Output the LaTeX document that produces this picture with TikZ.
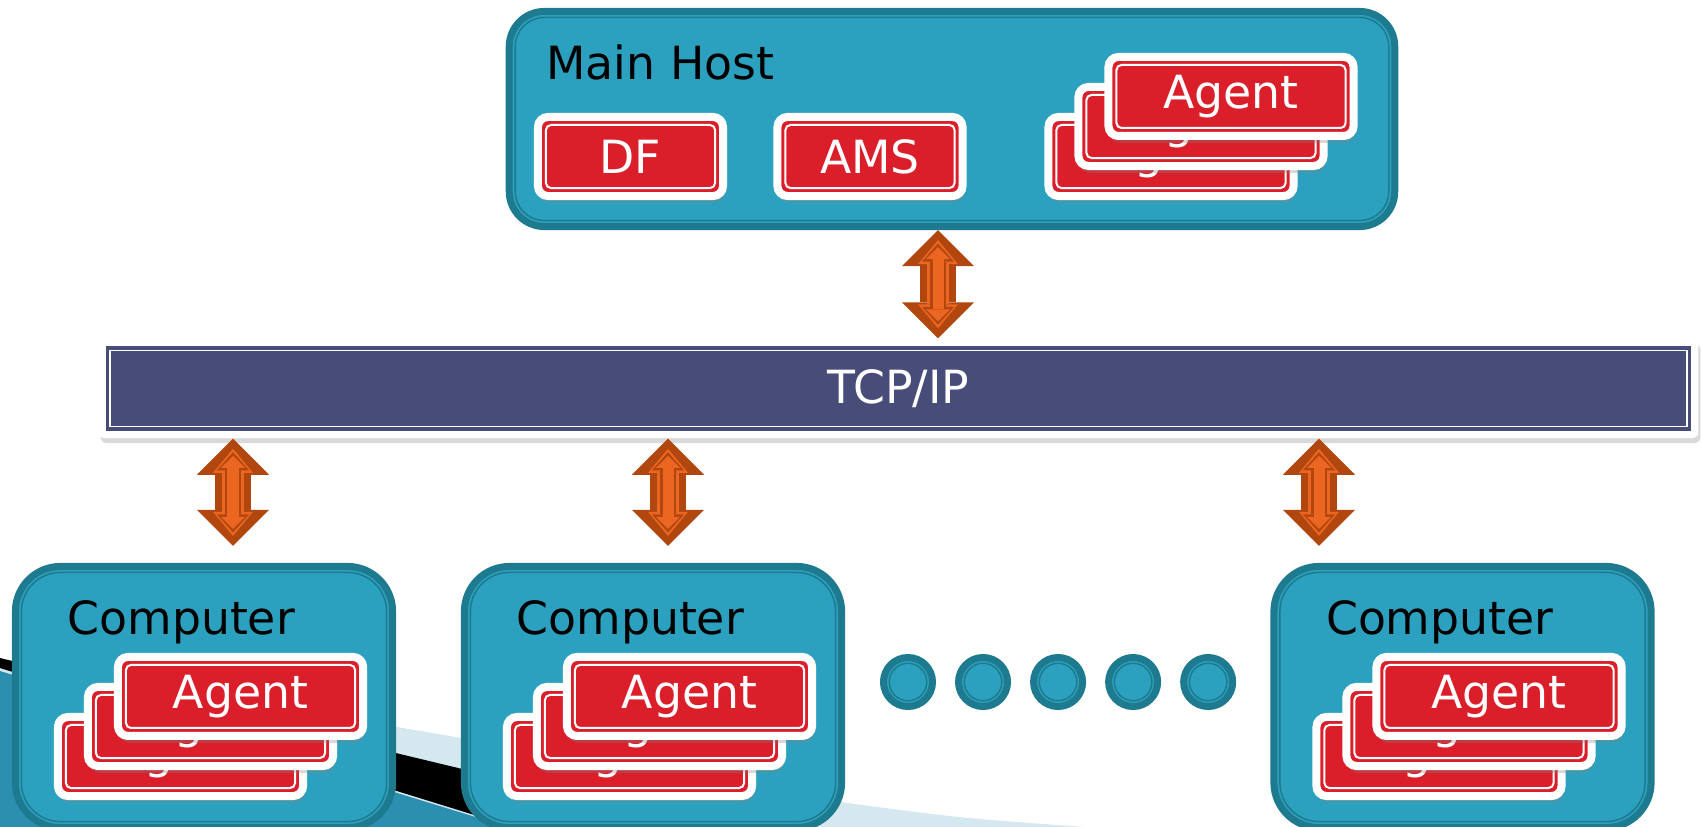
\documentclass[tikz,border=0pt]{standalone}
\usepackage{fontspec}
\setmainfont{DejaVu Sans}
\usetikzlibrary{positioning,shadows,arrows.meta}
\definecolor{hostfill}{HTML}{2CA1BF}
\definecolor{hostedge}{HTML}{1E7A8E}
\definecolor{agentred}{HTML}{DA1F2A}
\definecolor{busblue}{HTML}{484C78}
\definecolor{arrowdark}{HTML}{B2460F}
\definecolor{arrowlight}{HTML}{EB6620}
\definecolor{swooshblue}{HTML}{D5E8F0}
\definecolor{swooshteal}{HTML}{2B8FAF}
\begin{document}
        \begin{tikzpicture}[x=0.01cm, y=-0.01cm, font=\fontsize{13}{15}\selectfont,
            machine/.style={draw=hostedge, fill=hostfill, line width=0.07cm, rounded corners=#1,
                inner sep=0pt, minimum width=3.77cm, minimum height=2.61cm,
                path picture={\draw[hostedge, line width=0.015cm, rounded corners=#1-0.06cm]
                    ([shift={(0.06cm,-0.06cm)}]path picture bounding box.north west) rectangle
                    ([shift={(-0.06cm,0.06cm)}]path picture bounding box.south east);}},
            card/.style={draw=white, fill=agentred, line width=0.08cm, rounded corners=0.1cm,
                text=white, minimum width=#1, minimum height=0.79cm, node distance=0.4243cm,
                drop shadow={opacity=0.3, shadow xshift=0.02cm, shadow yshift=-0.07cm},
                path picture={\draw[white, line width=0.02cm, rounded corners=0.05cm]
                    ([shift={(0.08cm,-0.08cm)}]path picture bounding box.north west) rectangle
                    ([shift={(-0.08cm,0.08cm)}]path picture bounding box.south east);}},
            card/.default=2.45cm,
            bus/.style={fill=white, rounded corners=0.06cm, minimum width=15.99cm, minimum height=0.99cm,
                text=white, drop shadow={opacity=0.3, shadow xshift=0.02cm, shadow yshift=-0.05cm},
                path picture={\fill[busblue, sharp corners]
                    ([shift={(0.07cm,-0.07cm)}]path picture bounding box.north west) rectangle
                    ([shift={(-0.07cm,0.07cm)}]path picture bounding box.south east);
                    \draw[white, sharp corners, line width=0.015cm]
                    ([shift={(0.115cm,-0.115cm)}]path picture bounding box.north west) rectangle
                    ([shift={(-0.115cm,0.115cm)}]path picture bounding box.south east);}},
            dot/.style={circle, draw=hostedge, fill=hostfill, line width=0.07cm, minimum size=0.49cm,
                inner sep=0pt, node distance=0.75cm,
                path picture={\draw[hostedge, line width=0.015cm] (path picture bounding box.center) circle (0.1875cm);}},
            title/.style={anchor=base west, inner sep=0pt},
            link/.style={arrowdark, line width=0.35cm, shorten >=#1,
                {Triangle[width=0.72cm,length=0.36cm,line width=0pt]}-{Triangle[width=0.72cm,length=0.36cm,line width=0pt]},
                postaction={draw=arrowlight, line width=0.22cm, shorten <=0.1cm, shorten >=#1+0.1cm,
                    {Triangle[width=0.4cm,length=0.24cm,line width=0pt]}-{Triangle[width=0.4cm,length=0.24cm,line width=0pt]}},
                postaction={draw=arrowdark, line width=0.16cm, shorten <=0.135cm, shorten >=#1+0.135cm,
                    {Triangle[width=0.32cm,length=0.18cm,line width=0pt]}-{Triangle[width=0.32cm,length=0.18cm,line width=0pt]}},
                postaction={draw=arrowlight, line width=0.11cm, shorten <=0.17cm, shorten >=#1+0.17cm,
                    {Triangle[width=0.24cm,length=0.12cm,line width=0pt]}-{Triangle[width=0.24cm,length=0.12cm,line width=0pt]}}},
            link/.default=0cm]
            \useasboundingbox (0,0) rectangle (1702,827);
            \clip (0,0) rectangle (1702,827);
            \fill[swooshblue] (0,660) -- (847,803) .. controls (960,818) .. (1085,827) -- (0,827) -- cycle;
            \fill[black] (0,658) -- (704,827) -- (513,827) -- (0,668) -- cycle;
            \fill[swooshteal] (0,671) -- (508,827) -- (0,827) -- cycle;

            \node[machine=0.35cm, minimum width=8.85cm, minimum height=2.15cm] (h) at (952,119) {};
            \node[title] (ht) at ([shift={(40,72)}]h.north west) {Main Host};
            \node[card=1.85cm] (df) at (630.5,156.5) {DF};
            \node[card=1.85cm] (ams) at (870,156.5) {AMS};
            \node[card] (ha1) at (1171,156.5) {Agent};
            \node[card] (ha2) [above right of=ha1] {Agent};
            \node[card] (ha3) [above right of=ha2] {Agent};

            \node[bus] (b) at (898.5,388.5) {TCP/IP};

            \node[machine=0.45cm] (c1) at (204,697) {};
            \node[machine=0.45cm] (c2) at (653,697) {};
            \node[machine=0.45cm] (c3) at (1462.5,697) {};
            \node[title] (ct1) at ([shift={(55,72)}]c1.north west) {Computer};
            \node[title] (ct2) at ([shift={(55,72)}]c2.north west) {Computer};
            \node[title] (ct3) at ([shift={(55,72)}]c3.north west) {Computer};
            \node[card] (a11) at ([shift={(-23.5,59.5)}]c1) {Agent};
            \node[card] (a12) [above right of=a11] {Agent};
            \node[card] (a13) [above right of=a12] {Agent};
            \node[card] (a21) at ([shift={(-23.5,59.5)}]c2) {Agent};
            \node[card] (a22) [above right of=a21] {Agent};
            \node[card] (a23) [above right of=a22] {Agent};
            \node[card] (a31) at ([shift={(-23.5,59.5)}]c3) {Agent};
            \node[card] (a32) [above right of=a31] {Agent};
            \node[card] (a33) [above right of=a32] {Agent};

            \node[dot] (d1) at (908,682) {};
            \node[dot] (d2) [right of=d1] {};
            \node[dot] (d3) [right of=d2] {};
            \node[dot] (d4) [right of=d3] {};
            \node[dot] (d5) [right of=d4] {};

            \coordinate (p0) at (938,0);
            \coordinate (p1) at (233,0);
            \coordinate (p2) at (668,0);
            \coordinate (p3) at (1319,0);
            \draw[link] (p0 |- h.south) -- (p0 |- b.north);
            \draw[link=0.17cm] (p1 |- b.south) -- (p1 |- c1.north);
            \draw[link=0.17cm] (p2 |- b.south) -- (p2 |- c2.north);
            \draw[link=0.17cm] (p3 |- b.south) -- (p3 |- c3.north);
        \end{tikzpicture}
\end{document}
